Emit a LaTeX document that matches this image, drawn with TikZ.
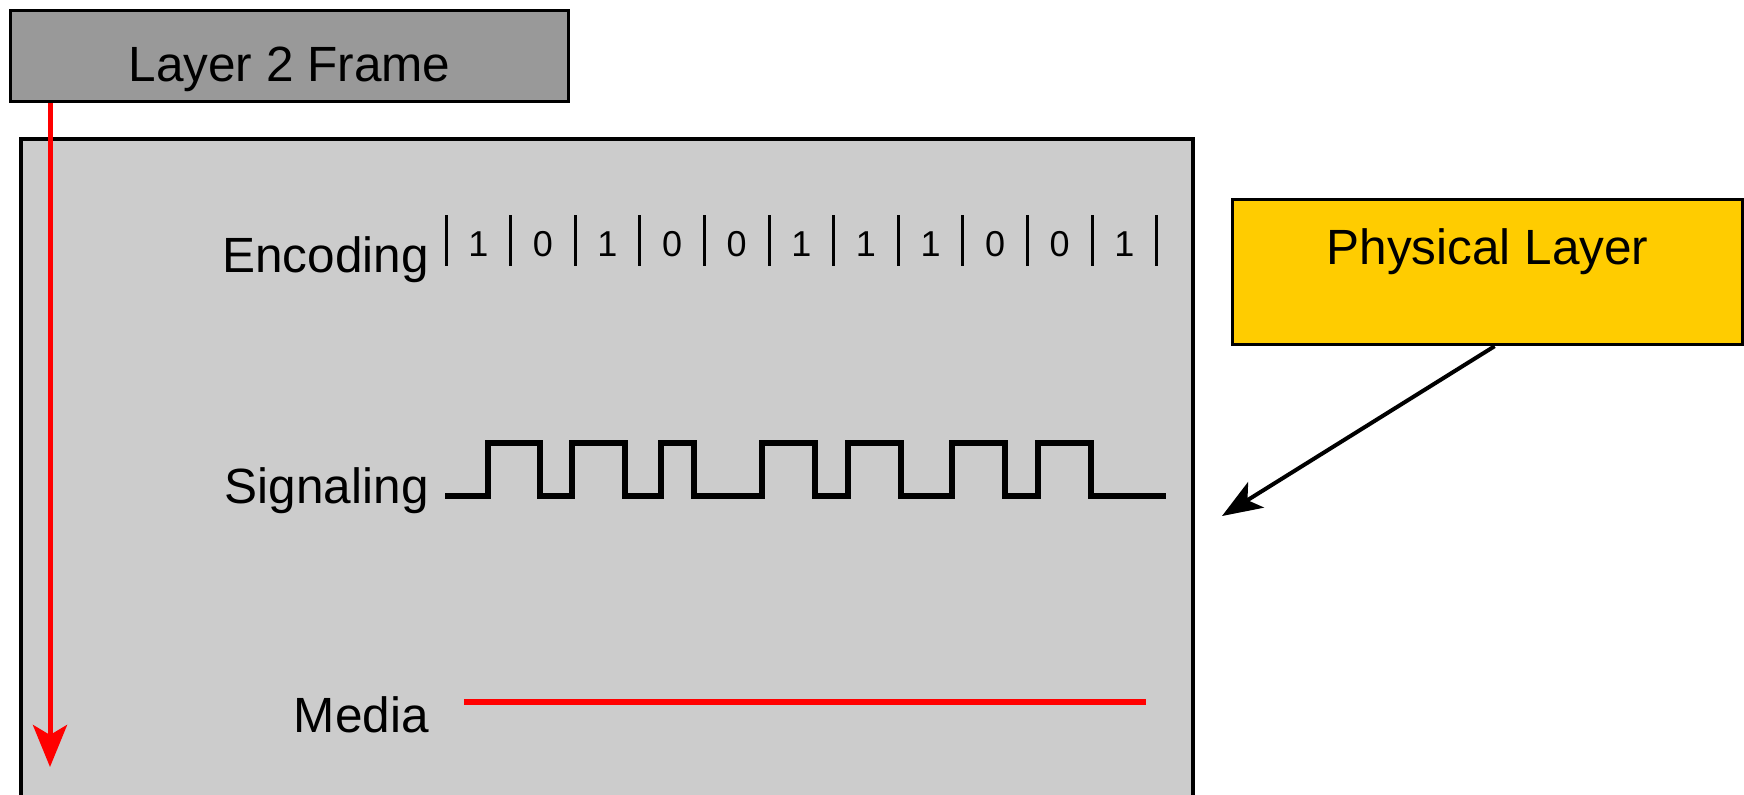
\documentclass[tikz,border=0pt]{standalone}
\usepackage{fontspec}
\setmainfont{Liberation Sans}
\usetikzlibrary{arrows.meta}
\definecolor{framegray}{HTML}{999999}
\definecolor{panelgray}{HTML}{CCCCCC}
\definecolor{phyyellow}{HTML}{FFCC00}
\begin{document}
\begin{tikzpicture}[x=0.5pt,y=-0.5pt,
  outline/.style={draw=black, line width=1.6pt},
  lbl/.style={font=\fontsize{24.75}{29}\selectfont, inner sep=0pt},
  bitlbl/.style={font=\fontsize{18}{21}\selectfont, inner sep=0pt, anchor=base},
  tickline/.style={line width=1.5pt},
  wave/.style={line width=2.6pt, line join=miter},
  redline/.style={draw=red, line width=2.75pt},
  redarrow/.style={draw=red, line width=2.5pt, -{Stealth[length=21pt, width=17pt, inset=5pt]}},
  blackarrow/.style={draw=black, line width=2pt, -{Stealth[length=20pt, width=15pt, inset=5pt]}}
]
\useasboundingbox (0,0) rectangle (1744,794);

% panel holding the three physical-layer rows (runs off the bottom edge)
\fill[panelgray] (21,139) rectangle (1193,800);
\draw[outline] (21,800) -- (21,139) -- (1193,139) -- (1193,800);

% layer 2 frame box
\node[outline, fill=framegray, lbl, anchor=north west,
      minimum width=279pt, minimum height=45.5pt,
      text height=25.5pt, text depth=0pt] (frame) at (9,9) {Layer 2 Frame};

% physical layer box
\node[outline, fill=phyyellow, lbl, anchor=north west,
      minimum width=255pt, minimum height=72.5pt,
      text height=0pt, text depth=7.5pt] (phy) at (1231,198) {Physical Layer};

% row labels
\node[lbl, anchor=base east] (enc) at (429,272) {Encoding};
\node[lbl, anchor=base east] (sig) at (429,503) {Signaling};
\node[lbl, anchor=base east] (med) at (429,732) {Media};

% encoding: bit cells
\foreach \i in {0,...,11}
  \draw[tickline] ({446+64.6*\i},215) -- ({446+64.6*\i},266);
\foreach \b [count=\i] in {1,0,1,0,0,1,1,1,0,0,1}
  \node[bitlbl] (bit\i) at ({446+64.6*(\i-0.5)},256) {\b};

% signaling: square wave
\draw[wave] (445,496) -- (488,496) -- (488,443) -- (540,443) -- (540,496)
  -- (572,496) -- (572,443) -- (625,443) -- (625,496)
  -- (661,496) -- (661,443) -- (694,443) -- (694,496)
  -- (762,496) -- (762,443) -- (815,443) -- (815,496)
  -- (848,496) -- (848,443) -- (901,443) -- (901,496)
  -- (952,496) -- (952,443) -- (1005,443) -- (1005,496)
  -- (1038,496) -- (1038,443) -- (1091,443) -- (1091,496) -- (1166,496);

% media: the wire
\coordinate (wireA) at (464,702);
\coordinate (wireB) at (1146,702);
\draw[redline] (wireA) -- (wireB);

% frame travelling down through the layer
\coordinate (frameEnd) at (50,767);
\draw[redarrow] (frame.south -| frameEnd) -- (frameEnd);

% pointer from the physical layer box
\coordinate (phyTip) at (1222,516);
\draw[blackarrow] ([xshift=3.5pt]phy.south) -- (phyTip);
\end{tikzpicture}
\end{document}
